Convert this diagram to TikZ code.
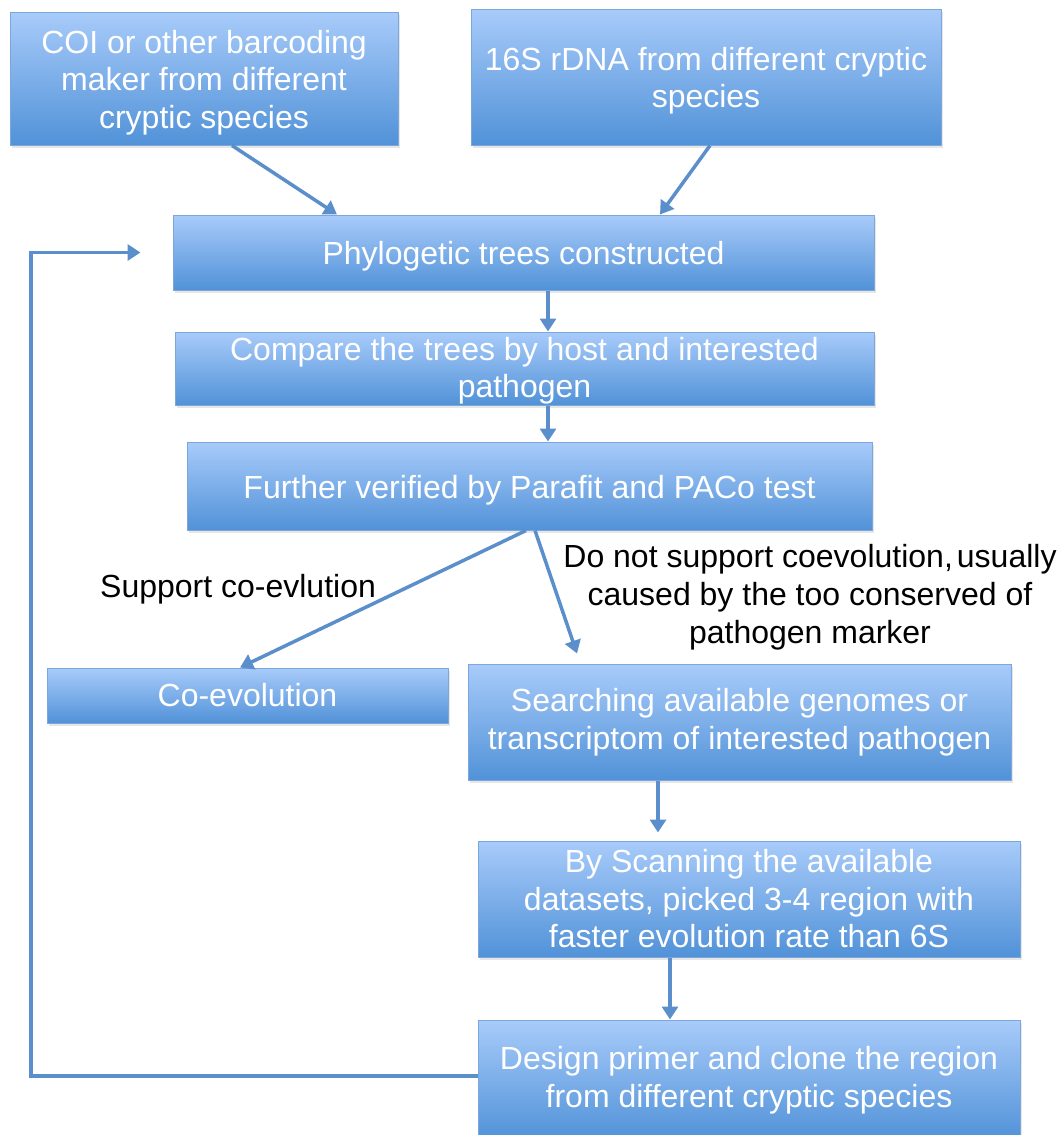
\documentclass[tikz,border=0pt]{standalone}
\usepackage{fontspec}
\setmainfont{Liberation Sans}
\usetikzlibrary{arrows.meta,calc,shadows}
\definecolor{boxtop}{HTML}{A8CBFA}
\definecolor{boxbot}{HTML}{5192D8}
\definecolor{boxline}{HTML}{7BA7DC}
\definecolor{arrowc}{HTML}{5B8FCC}
\newcommand{\tup}{\rule{0pt}{31pt}}
\begin{document}
\begin{tikzpicture}[x=1pt,y=-1pt,
  box/.style={rectangle, draw=boxline, line width=1pt, top color=boxtop, bottom color=boxbot,
    text=white, align=center, inner sep=0pt, font=\fontsize{32}{37.5}\selectfont,
    drop shadow={opacity=0.2, shadow xshift=2pt, shadow yshift=-3pt}},
  conn/.style={draw=arrowc, line width=3.5pt, -{Triangle[width=16pt,length=13pt]}},
  lbl/.style={text=black, align=center, inner sep=0pt, font=\fontsize{32}{38}\selectfont}]
\useasboundingbox (0,0) rectangle (1060,1135);
\clip (0,0) rectangle (1060,1135);

\node[box, minimum width=388pt, minimum height=133pt] (coi) at (204,78.5)
  {\tup COI or other barcoding\\maker from different\\cryptic species};
\node[box, minimum width=470pt, minimum height=136pt] (s16) at (706,77)
  {\tup 16S rDNA from different cryptic\\species};
\node[box, minimum width=701pt, minimum height=75pt] (phylo) at (523.5,252.5)
  {\tup Phylogetic trees constructed};
\node[box, minimum width=699pt, minimum height=73pt] (compare) at (524.5,368.5)
  {\rule{0pt}{28pt}Compare the trees by host and interested\\pathogen};
\node[box, minimum width=685pt, minimum height=88pt] (further) at (529.5,486)
  {\tup Further verified by Parafit and PACo test};
\node[box, minimum width=401pt, minimum height=55pt] (coevo) at (247.5,695.5)
  {Co-evolution};
\node[box, minimum width=543pt, minimum height=116pt] (search) at (739.5,722)
  {Searching available genomes or\\transcriptom of interested pathogen};
\node[box, minimum width=542pt, minimum height=116pt] (scan) at (749,899)
  {By Scanning the available\\datasets, picked 3-4 region with\\faster evolution rate than 6S};
\node[box, minimum width=542pt, minimum height=120pt] (design) at (749,1080)
  {Design primer and clone the region\\from different cryptic species};

\node[lbl, anchor=base west] (lsup) at (100,597) {Support co-evlution};
\node[lbl] (lnot) at (810,597)
  {Do not support coevolution,\kern4pt usually\\caused by the too conserved of\\pathogen marker};

\draw[conn] ($(coi.south)+(28,0)$) -- ($(phylo.north)+(-186.5,0)$);
\draw[conn] ($(s16.south)+(4,0)$) -- ($(phylo.north)+(136.5,0)$);
\draw[conn] ($(phylo.south)+(24.5,0)$) -- ($(compare.north)+(23.5,0)$);
\draw[conn] ($(compare.south)+(23.5,0)$) -- ($(further.north)+(18.5,0)$);
\draw[conn] ($(further.south)+(-3.5,0)$) -- ($(coevo.north)+(-7.5,0)$);
\draw[conn] ($(further.south)+(5.5,0)$) -- ($(search.north)+(-162.5,-10)$);
\draw[conn] ($(search.south)+(-81.5,0)$) -- ($(scan.north)+(-91,-8)$);
\draw[conn] ($(scan.south)+(-79,0)$) -- ($(design.north)+(-79,0)$);

\coordinate (fbx) at (31,1076);
\coordinate (fbend) at ($(phylo.west)+(-32,0)$);
\draw[conn] (design.west |- fbx) -- (fbx) |- (fbend);
\end{tikzpicture}
\end{document}
